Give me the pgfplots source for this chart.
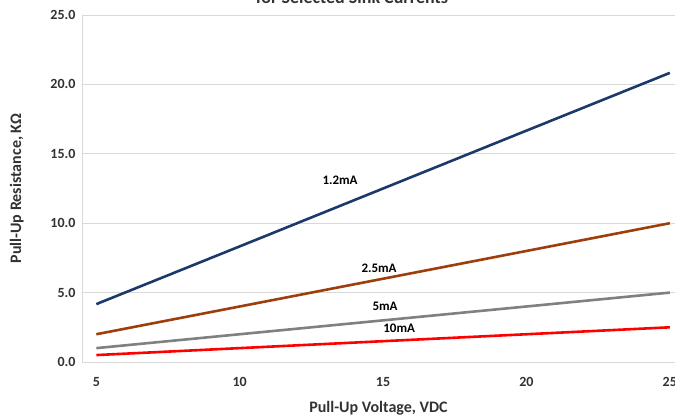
\documentclass[border=0pt]{standalone}
\usepackage{pgfplots}
\pgfplotsset{compat=1.18}
\usetikzlibrary{calc}
\usepackage{fontspec}
\setmainfont{Carlito}
\definecolor{c12}{RGB}{28,58,105}
\definecolor{c25}{RGB}{158,62,12}
\definecolor{c5}{RGB}{128,128,128}
\definecolor{c10}{RGB}{255,0,0}
\definecolor{gridc}{RGB}{217,217,217}
\definecolor{txt}{RGB}{50,50,50}

\begin{document}
\begin{tikzpicture}
  \begin{axis}[
    name=ax,
    scale only axis,
    width=593pt, height=347pt,
    xmin=4.5, xmax=25.18,
    ymin=0, ymax=25,
    xtick={5,10,15,20,25},
    ytick={0,5,10,15,20,25},
    yticklabel style={/pgf/number format/fixed,/pgf/number format/fixed zerofill,/pgf/number format/precision=1, xshift=-3pt},
    /pgf/number format/assume math mode=true,
    ticklabel style={font=\fontsize{14}{16}\selectfont\bfseries, text=txt},
    xticklabel style={yshift=-12pt},
    major tick length=0pt,
    axis x line*=bottom,
    axis y line*=left,
    axis line style={draw=gridc, line width=0.8pt, -},
    ymajorgrids=true,
    grid style={draw=gridc, line width=0.8pt},
    xlabel={Pull-Up Voltage, VDC},
    ylabel={Pull-Up Resistance, KΩ},
    label style={font=\fontsize{16}{18}\selectfont\bfseries, text=txt},
    xlabel style={yshift=-8pt},
    ylabel style={yshift=20pt},
    clip=false,
  ]
    \addplot[c12, line width=2.6pt] coordinates {
      (5,4.17) (10,8.33) (15,12.5) (20,16.67) (25,20.83)
    };
    \addplot[c25, line width=2.6pt] coordinates {
      (5,2.0) (10,4.0) (15,6.0) (20,8.0) (25,10.0)
    };
    \addplot[c5, line width=2.6pt] coordinates {
      (5,1.0) (10,2.0) (15,3.0) (20,4.0) (25,5.0)
    };
    \addplot[c10, line width=2.6pt] coordinates {
      (5,0.5) (10,1.0) (15,1.5) (20,2.0) (25,2.5)
    };
    \node[font=\fontsize{13}{15}\selectfont\bfseries] at (axis cs:13.5,13.1) {1.2mA};
    \node[font=\fontsize{13}{15}\selectfont\bfseries] at (axis cs:14.86,6.76) {2.5mA};
    \node[font=\fontsize{13}{15}\selectfont\bfseries] at (axis cs:15.07,4.03) {5mA};
    \node[font=\fontsize{13}{15}\selectfont\bfseries] at (axis cs:15.56,2.45) {10mA};
  \end{axis}
  \pgfresetboundingbox
  \path[use as bounding box] (ax.south west) ++(-82pt,-56pt) rectangle ++(675pt,418pt);
  \node[anchor=base, font=\fontsize{18}{20}\selectfont\bfseries, text=txt]
    at ($(ax.south west)+(270pt,358pt)$) {for Selected Sink Currents};
\end{tikzpicture}
\end{document}
